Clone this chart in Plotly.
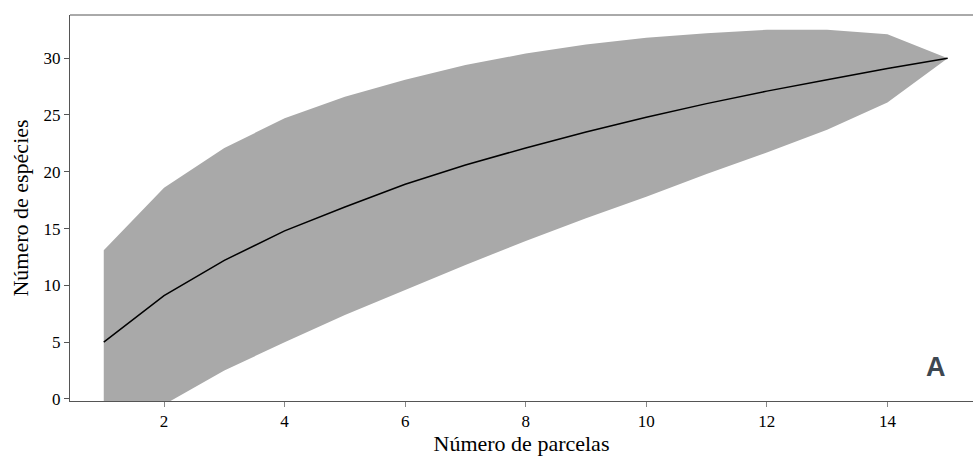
import plotly.graph_objects as go

parcelas = list(range(1, 16))
media = [5.0, 9.1, 12.2, 14.8, 16.9, 18.9, 20.6, 22.1, 23.5, 24.8, 26.0, 27.1, 28.1, 29.1, 30.0]
superior = [13.1, 18.6, 22.1, 24.7, 26.6, 28.1, 29.4, 30.4, 31.2, 31.8, 32.2, 32.5, 32.5, 32.1, 30.0]
inferior = [-3.0, -0.5, 2.5, 5.0, 7.4, 9.6, 11.8, 13.9, 15.9, 17.8, 19.8, 21.7, 23.7, 26.1, 30.0]

tick_font = dict(family="Liberation Serif", size=17, color="black")

fig = go.Figure()
fig.add_trace(go.Scatter(x=parcelas, y=superior, mode="lines", line=dict(width=0),
                         showlegend=False, hoverinfo="skip"))
fig.add_trace(go.Scatter(x=parcelas, y=inferior, mode="lines", line=dict(width=0),
                         fill="tonexty", fillcolor="#a9a9a9", showlegend=False, hoverinfo="skip"))
fig.add_trace(go.Scatter(x=parcelas, y=media, mode="lines", line=dict(color="black", width=1.5),
                         showlegend=False))

fig.update_layout(
    width=973, height=460,
    margin=dict(l=70, r=0, t=15, b=59),
    plot_bgcolor="white", paper_bgcolor="white",
    font=dict(family="Liberation Serif", color="black", size=17),
    xaxis=dict(range=[0.44, 15.42], tickvals=[2, 4, 6, 8, 10, 12, 14], ticks="outside",
               ticklen=5, tickcolor="#888888", showline=True, linecolor="#555555", linewidth=1,
               showgrid=False, zeroline=False, mirror=False, tickfont=tick_font,
               title=dict(text="Número de parcelas", font=dict(family="Liberation Serif", size=22), standoff=5)),
    yaxis=dict(range=[-0.18, 33.8], tickvals=[0, 5, 10, 15, 20, 25, 30], ticks="outside",
               ticklen=5, tickcolor="#555555", showline=True, linecolor="#555555", linewidth=1,
               showgrid=False, zeroline=False, tickfont=tick_font,
               title=dict(text="Número de espécies", font=dict(family="Liberation Serif", size=22), standoff=8)),
    shapes=[dict(type="line", xref="paper", yref="paper", x0=0, x1=1, y0=1, y1=1,
                 line=dict(color="#555555", width=1))],
    annotations=[dict(text="<b>A</b>", xref="paper", yref="paper", x=0.959, y=0.088,
                      xanchor="center", yanchor="middle",
                      showarrow=False, font=dict(family="Liberation Sans", size=27, color="#3d4751"))],
)

fig.write_html("out.html")
